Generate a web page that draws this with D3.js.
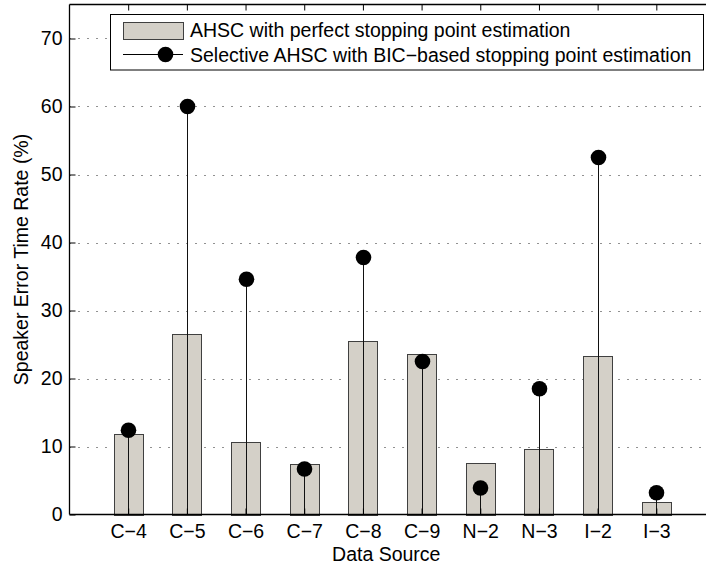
<!DOCTYPE html>
<html>
<head>
<meta charset="utf-8">
<script src="https://cdn.jsdelivr.net/npm/d3@7"></script>
<style>
  html, body { margin: 0; padding: 0; background: #fff; }
  svg { display: block; font-family: "Liberation Sans", Arial, Helvetica, sans-serif; }
</style>
</head>
<body>
<svg id="chart" width="706" height="566"></svg>
<script>
// Data sources on the x axis
const sources = ["C\u22124", "C\u22125", "C\u22126", "C\u22127", "C\u22128", "C\u22129", "N\u22122", "N\u22123", "I\u22122", "I\u22123"];
// AHSC with perfect stopping point estimation (bars)
const perfectRate = [11.9, 26.5, 10.6, 7.5, 25.5, 23.6, 7.6, 9.7, 23.3, 1.8];
// Selective AHSC with BIC-based stopping point estimation (stems)
const bicRate = [12.4, 60.0, 34.6, 6.7, 37.8, 22.5, 3.9, 18.5, 52.5, 3.2];
// Y axis ticks
const yTicks = [0, 10, 20, 30, 40, 50, 60, 70];
const legendLabels = ["AHSC with perfect stopping point estimation", "Selective AHSC with BIC\u2212based stopping point estimation"];

const svg = d3.select("#chart");
const mLeft = 69.5, mRight = 715, mTop = 4.5, mBottom = 514.5;
const fontSize = 19.5;

const x = d3.scaleLinear().domain([0, sources.length + 1]).range([mLeft, mRight]);
const y = d3.scaleLinear().domain([0, 75]).range([mBottom, mTop]);
const barW = x(0.5) - x(0);

const barFill = "#d4d0c8", barEdge = "#404040";

// Dotted horizontal grid
svg.append("g").selectAll("line").data(yTicks.filter(d => d > 0)).join("line")
  .attr("x1", mLeft).attr("x2", mRight)
  .attr("y1", d => Math.round(y(d)) + 0.5).attr("y2", d => Math.round(y(d)) + 0.5)
  .attr("stroke", "#222").attr("stroke-width", 1).attr("stroke-dasharray", "1,8");

// Bars
svg.append("g").selectAll("rect").data(perfectRate).join("rect")
  .attr("x", (d, i) => Math.round(x(i + 1) - barW / 2) + 0.5)
  .attr("y", d => Math.round(y(d)) + 0.5)
  .attr("width", Math.round(barW))
  .attr("height", d => Math.round(y(0)) - Math.round(y(d)))
  .attr("fill", barFill).attr("stroke", barEdge).attr("stroke-width", 1);

// Stems from zero up to the BIC-based value
svg.append("g").selectAll("line").data(bicRate).join("line")
  .attr("x1", (d, i) => Math.round(x(i + 1)) + 0.5).attr("x2", (d, i) => Math.round(x(i + 1)) + 0.5)
  .attr("y1", y(0)).attr("y2", d => y(d))
  .attr("stroke", "#111").attr("stroke-width", 1);

svg.append("g").selectAll("circle").data(bicRate).join("circle")
  .attr("cx", (d, i) => Math.round(x(i + 1)) + 0.5)
  .attr("cy", d => y(d))
  .attr("r", 7.8).attr("fill", "#000");

// Axes: left and bottom with inward ticks, top with inward ticks only
const yAxis = d3.axisLeft(y).tickValues(yTicks).tickSize(-6).tickPadding(7).tickFormat(d3.format("d"));
const gy = svg.append("g").attr("transform", `translate(${mLeft},0)`).call(yAxis);
const xAxisB = d3.axisBottom(x).tickValues(d3.range(1, sources.length + 1)).tickSize(-6).tickPadding(10)
  .tickFormat(d => sources[d - 1]);
const gx = svg.append("g").attr("transform", `translate(0,${mBottom})`).call(xAxisB);
const xAxisT = d3.axisTop(x).tickValues(d3.range(1, sources.length + 1)).tickSize(-6).tickFormat("");
const gt = svg.append("g").attr("transform", `translate(0,${mTop})`).call(xAxisT);

[gy, gx, gt].forEach(g => {
  g.select(".domain").attr("stroke", "#000").attr("stroke-width", 1.3);
  g.selectAll(".tick line").attr("stroke", "#000");
  g.selectAll("text").attr("fill", "#000").attr("font-size", fontSize)
    .attr("font-family", "'Liberation Sans', Arial, Helvetica, sans-serif");
});
gy.select(".domain").attr("d", `M0,${mTop}V${mBottom}`);
gx.select(".domain").attr("d", `M${mLeft},0H${mRight}`);
gt.select(".domain").attr("d", `M${mLeft},0H${mRight}`);

// Axis titles
svg.append("text").attr("x", (mLeft + 703) / 2).attr("y", 561).attr("text-anchor", "middle")
  .attr("font-size", fontSize).text("Data Source");
svg.append("text").attr("transform", `translate(28,${(mTop + mBottom) / 2}) rotate(-90)`)
  .attr("text-anchor", "middle").attr("font-size", fontSize).text("Speaker Error Time Rate (%)");

// Legend
const lg = svg.append("g");
lg.append("rect").attr("x", 110.5).attr("y", 14.5).attr("width", 593).attr("height", 55.5)
  .attr("fill", "#fff").attr("stroke", "#000").attr("stroke-width", 1);
lg.append("rect").attr("x", 123.5).attr("y", 22.5).attr("width", 60).attr("height", 17)
  .attr("fill", barFill).attr("stroke", barEdge);
lg.append("line").attr("x1", 123).attr("x2", 183).attr("y1", 54.5).attr("y2", 54.5)
  .attr("stroke", "#000");
lg.append("circle").attr("cx", 165.5).attr("cy", 54.5).attr("r", 7.8).attr("fill", "#000");
lg.selectAll("text").data(legendLabels).join("text")
  .attr("x", 190).attr("y", (d, i) => 37 + i * 25)
  .attr("font-size", fontSize).text(d => d);
</script>
</body>
</html>
